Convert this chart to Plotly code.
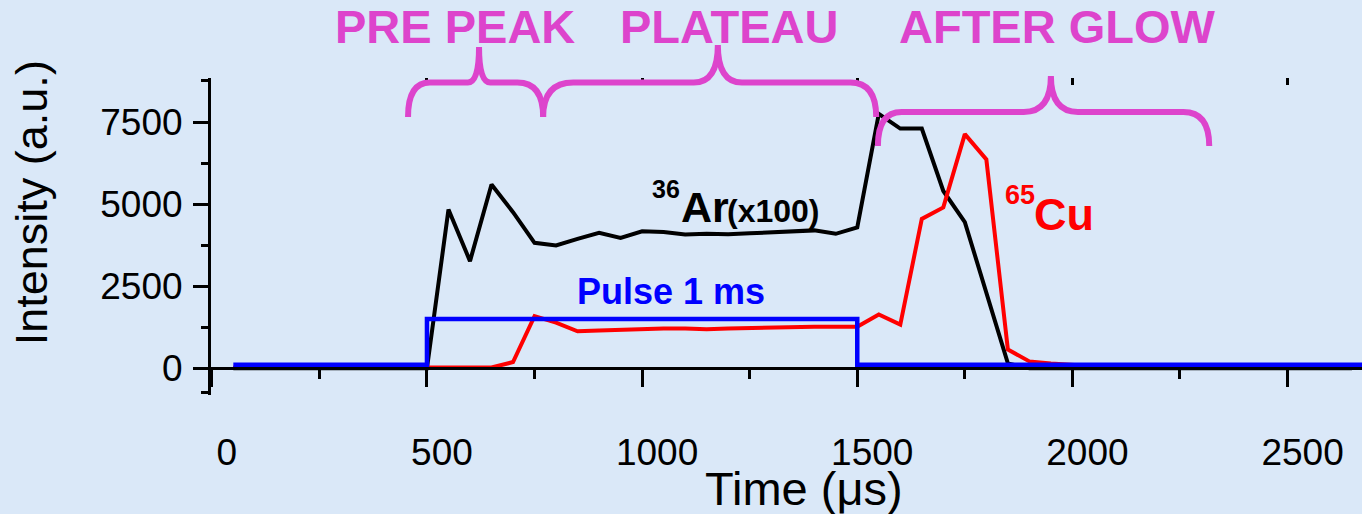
import plotly.graph_objects as go

# ---- data -----------------------------------------------------------------
time_us = [50, 100, 150, 200, 250, 300, 350, 400, 450, 500,
           550, 600, 650, 700, 750, 800, 850, 900, 950, 1000,
           1050, 1100, 1150, 1200, 1250, 1300, 1350, 1400, 1450, 1500,
           1550, 1600, 1650, 1700, 1750, 1800, 1850, 1900, 1950, 2000,
           2050, 2100, 2150, 2200, 2250, 2300, 2350, 2400, 2450, 2500,
           2550, 2600, 2650]

ar36_x100 = [0, 0, 0, 0, 0, 0, 0, 0, 0, 0,
             4835, 3264, 5595, 4755, 3820, 3740, 3940, 4125, 3970, 4170,
             4150, 4075, 4100, 4080, 4110, 4150, 4180, 4200, 4095, 4290,
             7750, 7300, 7300, 5400, 4450, 2290, 150, 0, 0, 0,
             0, 0, 0, 0, 0, 0, 0, 0, 0, 0,
             0, 0, 0]

cu65 = [25, 25, 25, 25, 25, 25, 25, 25, 25, 25,
        25, 25, 25, 190, 1590, 1390, 1125, 1150, 1170, 1215,
        1215, 1215, 1190, 1215, 1235, 1235, 1265, 1265, 1265, 1265,
        1640, 1330, 4550, 4900, 7130, 6360, 570, 210, 150, 90,
        60, 40, 30, 25, 25, 25, 25, 25, 25, 25,
        25, 25, 25]

pulse_t = [50, 500, 500, 1500, 1500, 2700]
pulse_v = [110, 110, 1500, 1500, 110, 110]

x_major = [0, 500, 1000, 1500, 2000, 2500]
x_minor = [250, 750, 1250, 1750, 2250]
y_major = [0, 2500, 5000, 7500]
y_minor = [-750, 1250, 3750, 6250, 8750]

# ---- frame ----------------------------------------------------------------
X_RANGE = [-1.9, 2673.0]
Y_RANGE = [-813.0, 8840.0]
BG = "#dae8f8"
MAGENTA = "#dd44cc"
FONT = "Liberation Sans, Arial, sans-serif"


def to_paper(t, v):
    xp = (t - X_RANGE[0]) / (X_RANGE[1] - X_RANGE[0])
    yp = (v - Y_RANGE[0]) / (Y_RANGE[1] - Y_RANGE[0])
    return xp, yp


def brace_path(xl, xr, xt, y_left, y_right, y_bar, y_tip, r_left, r_right, r_tip):
    """Curly brace opening downward, drawn in paper coordinates."""
    pts = [
        ("M", [(xl, y_left)]),
        ("Q", [(xl, y_bar), (xl + r_left, y_bar)]),
        ("L", [(xt - r_tip, y_bar)]),
        ("Q", [(xt, y_bar), (xt, y_tip)]),
        ("Q", [(xt, y_bar), (xt + r_tip, y_bar)]),
        ("L", [(xr - r_right, y_bar)]),
        ("Q", [(xr, y_bar), (xr, y_right)]),
    ]
    parts = []
    for cmd, coords in pts:
        txt = " ".join("%.5f,%.5f" % to_paper(a, b) for a, b in coords)
        parts.append(cmd + " " + txt)
    return " ".join(parts)


braces = [
    # (left, right, tip, left end, right end, bar, tip top, r_left, r_right, r_tip)
    (456, 770, 621, 7652, 7652, 8700, 9784, 51, 60, 26),
    (770, 1544, 1176, 7652, 7652, 8700, 9845, 70, 60, 56),
    (1548, 2318, 1950, 6771, 6771, 7805, 8900, 55, 60, 63),
]

fig = go.Figure()

fig.add_trace(go.Scatter(x=time_us, y=ar36_x100, mode="lines",
                         line=dict(color="black", width=4)))
fig.add_trace(go.Scatter(x=time_us, y=cu65, mode="lines",
                         line=dict(color="#ff0000", width=4)))
fig.add_trace(go.Scatter(x=pulse_t, y=pulse_v, mode="lines",
                         line=dict(color="#0000ff", width=4.5)))
# carrier for the top tick axis
fig.add_trace(go.Scatter(x=[None], y=[None], xaxis="x2", mode="lines",
                         hoverinfo="skip"))

shapes = []
for b in braces:
    shapes.append(dict(type="path", xref="paper", yref="paper",
                       path=brace_path(*b),
                       line=dict(color=MAGENTA, width=6)))

# section headings sit above the plot area, so they use paper height
TOP_Y = 1.161
annotations = [
    dict(text="<b>PRE PEAK</b>", x=565, y=TOP_Y, yref="paper", font=dict(size=47, color=MAGENTA)),
    dict(text="<b>PLATEAU</b>", x=1202, y=TOP_Y, yref="paper", font=dict(size=47, color=MAGENTA)),
    dict(text="<b>AFTER GLOW</b>", x=1965, y=TOP_Y, yref="paper", font=dict(size=47, color=MAGENTA)),
    dict(text="<b>Pulse 1 ms</b>", x=1067, y=2350, font=dict(size=36, color="#0000ff")),
    dict(text="<b>36</b>", x=1018, y=5471, xanchor="left", font=dict(size=25, color="black")),
    dict(text="<b>Ar</b>", x=1086, y=4905, xanchor="left", font=dict(size=43, color="black")),
    dict(text="<b>(x100)</b>", x=1192, y=4793, xanchor="left", font=dict(size=32, color="black")),
    dict(text="<b>65</b>", x=1839, y=5270, xanchor="left", font=dict(size=27, color="#ff0000")),
    dict(text="<b>Cu</b>", x=1906, y=4692, xanchor="left", font=dict(size=45, color="#ff0000")),
]
for a in annotations:
    a.setdefault("xanchor", "center")
    a.setdefault("yref", "y")
    a.update(xref="x", yanchor="middle", showarrow=False)
    a["font"]["family"] = FONT

annotations += [
    dict(text="Intensity (a.u.)", xref="paper", yref="paper", x=-0.1558, y=0.607,
         textangle=-90, showarrow=False, xanchor="center", yanchor="middle",
         font=dict(size=45, color="black", family=FONT)),
    dict(text="Time (μs)", xref="paper", yref="paper", x=0.5156, y=-0.294,
         showarrow=False, xanchor="center", yanchor="middle",
         font=dict(size=47, color="black", family=FONT)),
]

axis_common = dict(showgrid=False, zeroline=False, tickcolor="black",
                   tickfont=dict(size=37, color="black", family=FONT))

fig.update_layout(
    width=1362, height=514,
    margin=dict(l=211, r=0, t=78, b=119),
    paper_bgcolor=BG, plot_bgcolor=BG,
    showlegend=False, hovermode=False,
    shapes=shapes, annotations=annotations,
    xaxis=dict(range=X_RANGE, anchor="free", position=(0 - Y_RANGE[0]) / (Y_RANGE[1] - Y_RANGE[0]),
               tickmode="array", tickvals=x_major, ticks="outside", ticklen=17, tickwidth=2.5,
               showline=True, linecolor="black", linewidth=3,
               ticklabelshift=15, ticklabelstandoff=33,
               minor=dict(tickmode="array", tickvals=x_minor, ticks="outside",
                          ticklen=9, tickwidth=2.5, tickcolor="black"),
               **axis_common),
    xaxis2=dict(matches="x", overlaying="x", side="top", anchor="y",
                tickmode="array", tickvals=x_major[1:], ticks="inside", ticklen=7, tickwidth=2.5,
                showline=False, showticklabels=False, showgrid=False, zeroline=False,
                tickcolor="black"),
    yaxis=dict(range=Y_RANGE, anchor="x",
               tickmode="array", tickvals=y_major, ticks="outside", ticklen=15, tickwidth=2.5,
               showline=True, linecolor="black", linewidth=3,
               ticklabelstandoff=3,
               minor=dict(tickmode="array", tickvals=y_minor, ticks="outside",
                          ticklen=7, tickwidth=2.5, tickcolor="black"),
               **axis_common),
)

fig.write_html("out.html")
